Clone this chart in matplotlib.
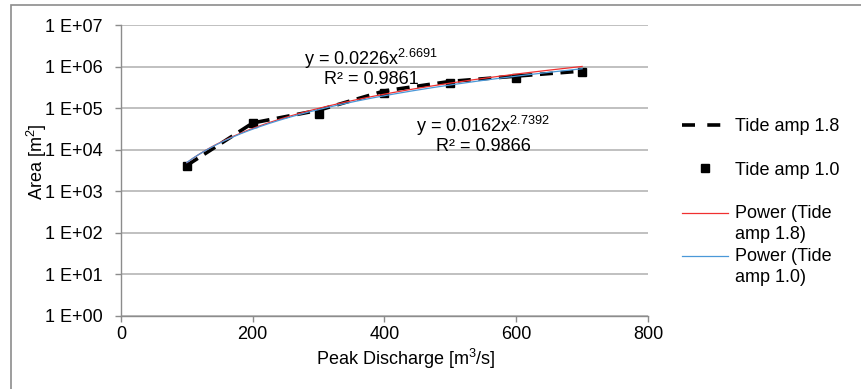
import matplotlib.pyplot as plt
import matplotlib.ticker as mticker
from matplotlib.patches import Rectangle
from matplotlib.lines import Line2D
from matplotlib.legend_handler import HandlerLine2D
import numpy as np

plt.rcParams['font.family'] = ['Liberation Sans', 'DejaVu Sans']
plt.rcParams['font.size'] = 13

# dados
descarga = [100, 200, 300, 400, 500, 600, 700]
area_amp18 = [4.2e3, 4.4e4, 8.9e4, 2.6e5, 4.4e5, 5.9e5, 7.8e5]
area_amp10 = [4.0e3, 4.5e4, 7.2e4, 2.3e5, 4.1e5, 5.4e5, 7.4e5]

# linhas de tendência (potência) mostradas no gráfico
coef_amp18, exp_amp18, r2_amp18 = 0.0162, 2.7392, 0.9866
coef_amp10, exp_amp10, r2_amp10 = 0.0226, 2.6691, 0.9861


class HandlerLinhaTopo(HandlerLine2D):
    # alinha o traço da legenda com a primeira linha do texto (como no Excel)
    def create_artists(self, legend, orig_handle, xdescent, ydescent, width, height,
                       fontsize, trans):
        arts = super().create_artists(legend, orig_handle, xdescent, ydescent, width,
                                      height, fontsize, trans)
        for a in arts:
            a.set_ydata(np.asarray(a.get_ydata()) + 0.6 * fontsize)
        return arts


fig = plt.figure(figsize=(8.62, 3.89), dpi=100)
ax = fig.add_axes([121 / 862, 1 - 316 / 389, (648 - 121) / 862, (316 - 25) / 389])

xs = np.linspace(descarga[0], descarga[-1], 200)
ax.plot(descarga, area_amp18, color='black', lw=2.6, dashes=(3.6, 2.1),
        label='Tide amp 1.8', zorder=4)
l2, = ax.plot(descarga, area_amp10, 's', color='black', ms=6, label='Tide amp 1.0', zorder=5)
l3, = ax.plot(xs, coef_amp18 * xs ** exp_amp18, color='#F03030', lw=0.9,
              label='Power (Tide\namp 1.8)', zorder=6)
l4, = ax.plot(xs, coef_amp10 * xs ** exp_amp10, color='#4A98D8', lw=0.9,
              label='Power (Tide\namp 1.0)', zorder=6)
# traço da legenda com dois tracejados, como no original
l1 = Line2D([], [], color='black', lw=2.6, dashes=(3.6, 3.4), label='Tide amp 1.8')

ax.set_yscale('log')
ax.set_xlim(0, 800)
ax.set_ylim(1, 1e7)
ax.set_xticks(range(0, 801, 200))
ax.yaxis.set_major_locator(mticker.LogLocator(base=10, numticks=10))
ax.yaxis.set_minor_locator(mticker.NullLocator())
ax.yaxis.set_major_formatter(mticker.FuncFormatter(
    lambda v, p: '1 E+%02d' % int(round(np.log10(v)))))

ax.grid(axis='y', color='#C0C0C0', lw=1.4)
ax.set_axisbelow(True)
for s in ['top', 'right']:
    ax.spines[s].set_visible(False)
for s in ['left', 'bottom']:
    ax.spines[s].set_color('#8C8C8C')
    ax.spines[s].set_linewidth(1)
ax.tick_params(axis='both', colors='#8C8C8C', labelcolor='black', length=4.3, width=1,
               labelsize=13)
ax.tick_params(axis='y', pad=9)
ax.tick_params(axis='x', pad=3)

ax.set_xlabel('Peak Discharge [m$\\mathregular{^3}$/s]', fontsize=13)
ax.set_ylabel('Area [m$\\mathregular{^2}$]', fontsize=13)
ax.xaxis.set_label_coords(0.541, -0.105)
ax.yaxis.set_label_coords(-0.136, 0.529)

# equações das linhas de tendência
ax.text(380, 10 ** 5.98,
        'y = %.4fx$\\mathregular{^{%.4f}}$\nR² = %.4f' % (coef_amp10, exp_amp10, r2_amp10),
        ha='center', va='center', fontsize=13, linespacing=0.98)
ax.text(550, 10 ** 4.36,
        'y = %.4fx$\\mathregular{^{%.4f}}$\nR² = %.4f' % (coef_amp18, exp_amp18, r2_amp18),
        ha='center', va='center', fontsize=13, linespacing=0.98)

leg_a = ax.legend(handles=[l1, l2], loc='upper left',
                  bbox_to_anchor=(682 / 862, 1 - 118 / 389), bbox_transform=fig.transFigure,
                  frameon=False, fontsize=13, borderpad=0, borderaxespad=0,
                  handlelength=2.55, handletextpad=0.4, labelspacing=1.47)
ax.add_artist(leg_a)
leg_b = ax.legend(handles=[l3, l4], loc='upper left',
                  bbox_to_anchor=(682 / 862, 1 - 205 / 389), bbox_transform=fig.transFigure,
                  frameon=False, fontsize=13, borderpad=0, borderaxespad=0,
                  handlelength=2.55, handletextpad=0.4, labelspacing=0.27,
                  handler_map={l3: HandlerLinhaTopo(), l4: HandlerLinhaTopo()})
for t in leg_b.get_texts():
    t.set_linespacing(1.3)

# moldura do gráfico
fig.patches.append(Rectangle((11 / 862, -0.1), 1.2, 1.1 - 5 / 389, transform=fig.transFigure,
                             fill=False, edgecolor='#8C8C8C', lw=1.2))

fig.savefig('out.png', dpi=100)
